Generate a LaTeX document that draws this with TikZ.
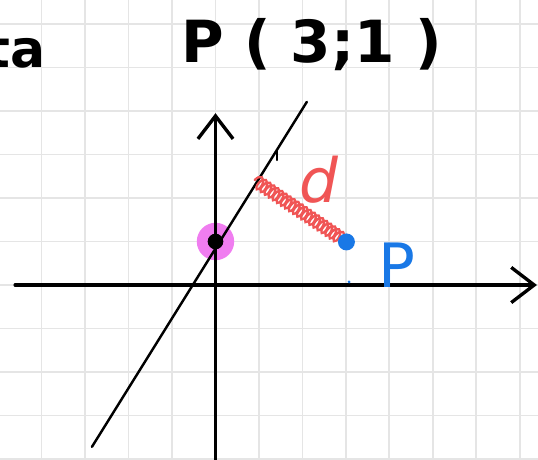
\documentclass[tikz,border=0pt]{standalone}
\usepackage{fontspec}
\usetikzlibrary{arrows.meta,decorations.pathmorphing}
\newfontfamily\handfont{DejaVu Sans}
\definecolor{gridgray}{RGB}{229,229,229}
\definecolor{penred}{RGB}{240,85,85}
\definecolor{penblue}{RGB}{25,120,230}
\definecolor{penpink}{RGB}{240,125,240}
\begin{document}
\begin{tikzpicture}[line cap=round,
	axis/.style={line width=2pt, -{Straight Barb[length=15pt,width=23pt,line width=2.2pt]}},
	handtext/.style={inner sep=0pt, font=\handfont\fontsize{40}{40}\selectfont}]
\useasboundingbox (-4.954,-4.023) rectangle (7.414,6.552);
\fill[white] (-4.954,-4.023) rectangle (7.414,6.552);
\foreach \x in {-4,...,7}
{
	\draw[gridgray, line width=1.3pt] (\x,-4.1) -- (\x,6.6);
}
\foreach \y in {-4,...,6}
{
	\draw[gridgray, line width=1.3pt] (-5,\y) -- (7.5,\y);
}
\fill[penpink] (0,1) circle (0.43);
\draw[axis] (-4.61,0) -- (7.39,0);
\draw[axis] (0,-4.1) -- (0,3.95);
\draw[line width=1.6pt] (-2.84,-3.72) -- (2.10,4.21);
\draw[line width=1.4pt] (1.41,3.10) -- (1.41,2.87);
\fill (0,1) circle (0.18);
\draw[penred, line width=1.5pt, decorate,
	decoration={coil, aspect=0.5, segment length=3.2pt, amplitude=4.2pt}] (0.90,2.41) -- (3.01,0.99);
\fill[penblue] (3.01,0.99) circle (0.195);
\fill[penblue] (3.07,0.07) circle (0.035);
\node[handtext, text=penred] (dist) at (2.38,2.41) {\itshape d};
\node[handtext, text=penblue] (plabel) at (4.17,0.46) {P};
\node[handtext, font=\handfont\bfseries\fontsize{38}{38}\selectfont] (title) at (2.21,5.52) {P ( 3;1 )};
\node[handtext, font=\handfont\bfseries\fontsize{34}{34}\selectfont, anchor=west] (cut) at (-5.3,5.4) {ta};
\end{tikzpicture}
\end{document}
